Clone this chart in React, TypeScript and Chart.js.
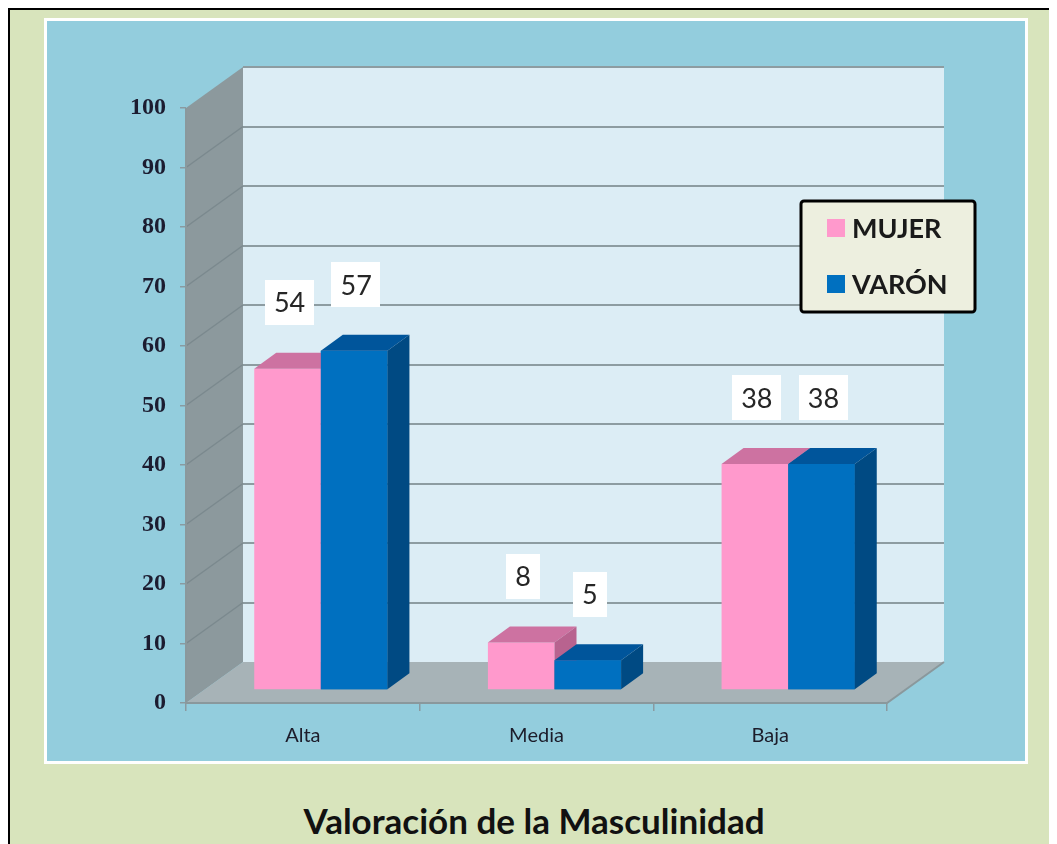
import React, { useEffect, useRef } from "react";
import { Chart, registerables } from "chart.js";

Chart.register(...registerables);

const categories = ["Alta", "Media", "Baja"];
const mujerValues = [54, 8, 38];
const varonValues = [57, 5, 38];
const seriesLabels = ["MUJER", "VARÓN"];
const yMin = 0;
const yMax = 100;
const yStep = 10;
const titleText = "Valoración de la Masculinidad";

// 3D styling
const BACK = { dx: 57, dy: -41 };
const BAR_SHIFT = { dx: 18, dy: -13 };
const DEPTH = { dx: 22, dy: -16 };
const FRONT_COLORS = ["#ff99cc", "#0070c0"];
const TOP_COLORS = ["#cd72a1", "#00559b"];
const SIDE_COLORS = ["#b8638f", "#004a83"];

function drawTopSide(ctx: any, bar: any, di: number) {
  const p = bar.getProps(["x", "y", "base", "width"], true);
  const x0 = p.x - p.width / 2;
  const x1 = p.x + p.width / 2;
  const yt = p.y;
  const yb = p.base;
  ctx.fillStyle = TOP_COLORS[di];
  ctx.beginPath();
  ctx.moveTo(x0, yt);
  ctx.lineTo(x1, yt);
  ctx.lineTo(x1 + DEPTH.dx, yt + DEPTH.dy);
  ctx.lineTo(x0 + DEPTH.dx, yt + DEPTH.dy);
  ctx.closePath();
  ctx.fill();
  ctx.fillStyle = SIDE_COLORS[di];
  ctx.beginPath();
  ctx.moveTo(x1, yt);
  ctx.lineTo(x1 + DEPTH.dx, yt + DEPTH.dy);
  ctx.lineTo(x1 + DEPTH.dx, yb + DEPTH.dy);
  ctx.lineTo(x1, yb);
  ctx.closePath();
  ctx.fill();
}

const threeD = {
  id: "threeD",
  beforeDatasetsDraw(chart: any) {
    const { ctx, chartArea } = chart;
    const { left, right, bottom } = chartArea;
    const y = chart.scales.y;
    const yTop = y.getPixelForValue(yMax);
    ctx.save();
    // back wall
    ctx.fillStyle = "#dcedf5";
    ctx.fillRect(left + BACK.dx, yTop + BACK.dy, right - left, bottom - yTop);
    // left wall
    ctx.fillStyle = "#8c999d";
    ctx.beginPath();
    ctx.moveTo(left, yTop);
    ctx.lineTo(left + BACK.dx, yTop + BACK.dy);
    ctx.lineTo(left + BACK.dx, bottom + BACK.dy);
    ctx.lineTo(left, bottom);
    ctx.closePath();
    ctx.fill();
    // floor
    ctx.fillStyle = "#a7b3b7";
    ctx.beginPath();
    ctx.moveTo(left, bottom);
    ctx.lineTo(right, bottom);
    ctx.lineTo(right + BACK.dx, bottom + BACK.dy);
    ctx.lineTo(left + BACK.dx, bottom + BACK.dy);
    ctx.closePath();
    ctx.fill();
    // back grid lines
    ctx.strokeStyle = "#8d9ca1";
    ctx.lineWidth = 2;
    for (let v = yMin + yStep; v <= yMax; v += yStep) {
      const py = Math.round(y.getPixelForValue(v) + BACK.dy);
      ctx.beginPath();
      ctx.moveTo(left + BACK.dx, py);
      ctx.lineTo(right + BACK.dx, py);
      ctx.stroke();
    }
    // left wall grid lines
    ctx.strokeStyle = "#7b898e";
    ctx.lineWidth = 1.5;
    for (let v = yMin + yStep; v < yMax; v += yStep) {
      const py = y.getPixelForValue(v);
      ctx.beginPath();
      ctx.moveTo(left, py);
      ctx.lineTo(left + BACK.dx, py + BACK.dy);
      ctx.stroke();
    }
    // edges
    ctx.strokeStyle = "#8a989c";
    ctx.lineWidth = 2;
    ctx.beginPath();
    ctx.moveTo(left, yTop);
    ctx.lineTo(left, bottom);
    ctx.lineTo(right, bottom);
    ctx.lineTo(right + BACK.dx, bottom + BACK.dy);
    ctx.stroke();
    ctx.restore();
    ctx.save();
    ctx.translate(BAR_SHIFT.dx, BAR_SHIFT.dy);
  },
  afterDatasetsDraw(chart: any) {
    const { ctx } = chart;
    const m0 = chart.getDatasetMeta(0);
    const m1 = chart.getDatasetMeta(1);
    m0.data.forEach((bar: any) => drawTopSide(ctx, bar, 0));
    m1.data.forEach((bar: any) => {
      bar.draw(ctx);
      drawTopSide(ctx, bar, 1);
    });
    ctx.restore();
  },
  afterDraw(chart: any) {
    const { ctx } = chart;
    ctx.save();
    // data labels
    ctx.font = "27px Lato";
    ctx.textAlign = "center";
    ctx.textBaseline = "middle";
    chart.data.datasets.forEach((ds: any, di: number) => {
      const meta = chart.getDatasetMeta(di);
      meta.data.forEach((bar: any, i: number) => {
        const p = bar.getProps(["x", "y"], true);
        const cx = p.x + BAR_SHIFT.dx + 2;
        const cy = p.y + BAR_SHIFT.dy - 66;
        const txt = String(ds.data[i]);
        const w = ctx.measureText(txt).width + 18;
        const h = 45;
        ctx.fillStyle = "#ffffff";
        ctx.fillRect(Math.round(cx - w / 2), Math.round(cy - h / 2), Math.round(w), h);
        ctx.fillStyle = "#262626";
        ctx.fillText(txt, cx, cy + 1);
      });
    });
    // legend
    const lx = 754, ly = 180, lw = 174, lh = 111;
    ctx.fillStyle = "#edefdf";
    ctx.strokeStyle = "#000000";
    ctx.lineWidth = 3;
    ctx.beginPath();
    ctx.roundRect(lx, ly, lw, lh, 3);
    ctx.fill();
    ctx.stroke();
    ctx.font = "bold 27px Lato";
    ctx.textAlign = "left";
    ctx.textBaseline = "middle";
    chart.data.datasets.forEach((ds: any, di: number) => {
      const iy = ly + 27 + di * 56;
      ctx.fillStyle = ds.backgroundColor;
      ctx.fillRect(lx + 26, iy - 9, 18, 18);
      ctx.fillStyle = "#1a1a1a";
      ctx.fillText(ds.label, lx + 51, iy + 1);
    });
    ctx.restore();
  },
};

export default function App() {
  const ref = useRef<HTMLCanvasElement>(null);
  useEffect(() => {
    if (!ref.current) return;
    const chart = new Chart(ref.current, {
      type: "bar",
      data: {
        labels: categories,
        datasets: [
          { label: seriesLabels[0], data: mujerValues, backgroundColor: FRONT_COLORS[0], clip: false as any, borderWidth: 0 },
          { label: seriesLabels[1], data: varonValues, backgroundColor: FRONT_COLORS[1], clip: false as any, borderWidth: 0 },
        ],
      },
      options: {
        animation: false,
        responsive: false,
        events: [],
        layout: { padding: { top: 87, right: 138, left: 0, bottom: 0 } },
        datasets: { bar: { categoryPercentage: 0.57, barPercentage: 1 } },
        plugins: { legend: { display: false }, tooltip: { enabled: false }, title: { display: false } },
        scales: {
          x: {
            grid: { drawOnChartArea: false, drawTicks: true, tickLength: 8, color: "#8a9aa0", lineWidth: 1.5, offset: true },
            border: { display: false },
            ticks: { color: "#1c1c2a", font: { family: "Lato", size: 20 }, padding: 13 },
            afterFit: (s: any) => { s.height = 57; },
          },
          y: {
            min: yMin,
            max: yMax,
            grid: { drawOnChartArea: false, drawTicks: true, tickLength: 6, color: "#8a9aa0", lineWidth: 1.5 },
            border: { display: false },
            ticks: { stepSize: yStep, color: "#1c1c30", font: { family: "'Liberation Serif'", size: 24, weight: "bold" }, padding: 14 },
            afterFit: (s: any) => { s.width = 139; },
          },
        },
      },
      plugins: [threeD],
    });
    return () => chart.destroy();
  }, []);

  return (
    <div
      style={{
        position: "relative",
        width: 1049,
        height: 836,
        boxSizing: "border-box",
        borderLeft: "2px solid #000",
        borderTop: "2px solid #000",
        background: "#d8e4bc",
        overflow: "hidden",
      }}
    >
      <div
        style={{
          position: "absolute",
          left: 34,
          top: 8,
          width: 984,
          height: 746,
          boxSizing: "border-box",
          border: "3px solid #ffffff",
          background: "#93cddd",
        }}
      />
      <canvas
        ref={ref}
        width={978}
        height={739}
        style={{ position: "absolute", left: 37, top: 11, width: 978, height: 739 }}
      />
      <div
        style={{
          position: "absolute",
          left: 0,
          top: 793,
          width: 1048,
          textAlign: "center",
          fontFamily: "Lato",
          fontWeight: "bold",
          fontSize: 35,
          lineHeight: "35px",
          color: "#111111",
        }}
      >
        {titleText}
      </div>
    </div>
  );
}
